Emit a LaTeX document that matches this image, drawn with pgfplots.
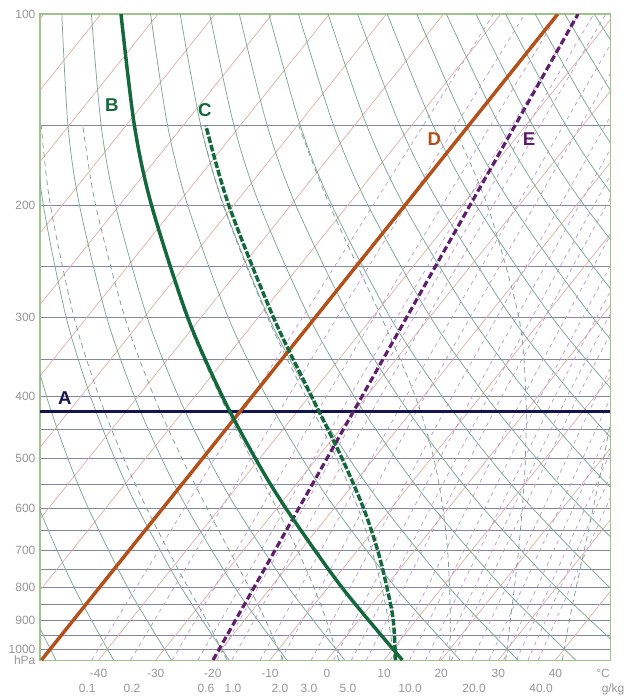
\documentclass[border=0pt]{standalone}
\usepackage{fontspec}
\setmainfont{Liberation Sans}
\usepackage{pgfplots}
\usepackage{pgfplotstable}
\pgfplotsset{compat=1.18}

\definecolor{framegreen}{RGB}{160,195,140}
\definecolor{isobar}{RGB}{135,135,155}
\definecolor{isotherm}{RGB}{215,175,165}
\definecolor{dryad}{RGB}{125,165,145}
\definecolor{moistad}{RGB}{125,155,145}
\definecolor{mixing}{RGB}{185,150,200}
\definecolor{ticklab}{RGB}{150,150,150}
\definecolor{lineA}{RGB}{20,20,80}
\definecolor{lineB}{RGB}{20,105,60}
\definecolor{lineD}{RGB}{180,80,25}
\definecolor{lineE}{RGB}{95,30,110}

% x = temperature at the bottom edge (skewed), y = pressure in hPa
% isotherms, -140 .. 40 C
\pgfplotstableread{
p t1 t2 t3 t4 t5 t6 t7 t8 t9 t10 t11 t12 t13 t14 t15 t16 t17 t18 t19
1040 -140 -130 -120 -110 -100 -90 -80 -70 -60 -50 -40 -30 -20 -10 0 10 20 30 40
100 -49.59 -39.59 -29.59 -19.59 -9.59 0.41 10.41 20.41 30.41 40.41 50.41 60.41 70.41 80.41 90.41 100.41 110.41 120.41 130.41
}\isotherms

% dry adiabats, theta = -50 .. 170 C
\pgfplotstableread{
p d1 d2 d3 d4 d5 d6 d7 d8 d9 d10 d11 d12 d13 d14 d15 d16 d17 d18 d19 d20 d21 d22 d23
1040 -47.48 -37.37 -27.26 -17.15 -7.03 3.08 13.19 23.31 33.42 43.53 53.64 63.76 73.87 83.98 94.09 104.21 114.32 124.43 134.55 144.66 154.77 164.88 175.00
800 -53.65 -44.27 -34.89 -25.50 -16.12 -6.74 2.64 12.02 21.41 30.79 40.17 49.55 58.94 68.32 77.70 87.08 96.47 105.85 115.23 124.61 134.00 143.38 152.76
600 -59.06 -50.42 -41.78 -33.13 -24.49 -15.85 -7.21 1.43 10.08 18.72 27.36 36.00 44.64 53.29 61.93 70.57 79.21 87.86 96.50 105.14 113.78 122.42 131.07
500 -61.81 -53.60 -45.40 -37.20 -29.00 -20.79 -12.59 -4.39 3.82 12.02 20.23 28.43 36.63 44.84 53.04 61.24 69.45 77.65 85.85 94.05 102.26 110.46 118.66
400 -64.50 -56.81 -49.11 -41.41 -33.72 -26.02 -18.32 -10.63 -2.93 4.77 12.46 20.16 27.86 35.55 43.25 50.95 58.64 66.34 74.04 81.74 89.43 97.13 104.83
300 -66.96 -59.87 -52.78 -45.69 -38.60 -31.51 -24.42 -17.33 -10.24 -3.15 3.94 11.03 18.11 25.20 32.29 39.38 46.47 53.56 60.65 67.74 74.83 81.92 89.01
200 -68.61 -62.30 -55.98 -49.67 -43.35 -37.04 -30.73 -24.41 -18.10 -11.78 -5.47 0.84 7.16 13.47 19.78 26.10 32.41 38.73 45.04 51.35 57.67 63.98 70.30
150 -68.62 -62.80 -56.99 -51.17 -45.36 -39.54 -33.72 -27.91 -22.09 -16.28 -10.46 -4.65 1.17 6.98 12.80 18.62 24.43 30.25 36.06 41.88 47.69 53.51 59.32
100 -67.16 -61.98 -56.80 -51.62 -46.44 -41.26 -36.08 -30.90 -25.72 -20.54 -15.36 -10.18 -5.00 0.18 5.36 10.54 15.72 20.90 26.08 31.26 36.44 41.62 46.79
}\dry

% saturated adiabats, theta_w = -20 .. 40 C
\pgfplotstableread{
p w1 w2 w3 w4 w5 w6 w7
1040 -17.5 -7.7 2.05 11.75 21.5 31.3 41.2
900 -21.12 -10.78 -0.13 10.75 21.58 32.11 42.45
800 -24.31 -13.61 -2.27 9.59 21.45 32.81 43.63
700 -27.79 -17.08 -5.12 7.86 21.12 33.53 45.02
600 -31.58 -20.99 -8.81 5.44 20.28 34.19 46.6
500 -35.64 -25.43 -13.32 1.68 18.68 34.74 48.45
400 -39.92 -30.29 -18.71 -3.71 15.46 34.82 50.54
300 -44.31 -35.42 -24.7 -10.44 9.5 33.58 53.6
200 -48.44 -40.52 -30.93 -18.19 0.45 28.07 nan
150 -50.04 -42.75 -33.91 -22.15 -4.93 22.11 nan
}\moist

% saturation mixing ratio lines, 0.1 .. 40 g/kg
\pgfplotstableread{
p m1 m2 m3 m4 m5 m6 m7 m8 m9 m10 m11 m12 m13 m14 m15 m16 m17 m18 m19 m20 m21 m22 m23
1040 -41.20 -34.39 -27.10 -22.60 -19.29 -16.66 -11.72 -8.08 -2.76 1.16 4.28 6.89 11.10 14.46 17.26 19.67 21.78 25.38 28.37 30.94 33.18 35.19 36.99
400 -13.01 -6.78 -0.14 3.96 6.96 9.35 13.83 17.12 21.91 25.44 28.25 30.59 34.37 37.37 39.88 42.03 43.91 47.12 49.78 52.06 54.06 55.83 57.44
100 29.14 34.65 40.50 44.10 46.73 48.82 52.73 55.59 59.76 62.82 65.25 67.27 70.52 73.11 75.26 77.11 78.72 81.46 83.74 85.68 87.38 88.89 90.25
}\mixing

\begin{document}
\begin{tikzpicture}
\begin{axis}[
  scale only axis,
  width=15.08cm, height=17.09cm,
  xmin=-50.26, xmax=49.56,
  ymode=log, ymin=100, ymax=1040, y dir=reverse,
  axis line style={framegreen, line width=0.8pt},
  ytick={100,200,...,1000},
  yticklabels={100,200,300,400,500,600,700,800,900,1000},
  minor ytick={150,250,...,950},
  ymajorgrids, yminorgrids,
  major grid style={isobar, line width=0.6pt},
  minor grid style={isobar, line width=0.6pt},
  xtick={-40,-30,...,40},
  xticklabels={-40,-30,-20,-10,0,10,20,30,40},
  major tick length=0pt, minor tick length=0pt,
  tick label style={font=\fontsize{9}{10}\selectfont, text=ticklab},
  xticklabel style={anchor=base, yshift=-0.45cm},
  extra x ticks={-42.0,-34.15,-21.19,-16.46,-8.23,-3.15,3.68,14.54,25.74,37.48},
  extra x tick labels={0.1,0.2,0.6,1.0,2.0,3.0,5.0,10.0,20.0,40.0},
  extra x tick style={xticklabel style={yshift=-0.397cm}},
  clip mode=individual,
]
% background lines
\pgfplotsinvokeforeach{1,...,19}{
  \addplot[isotherm, line width=0.5pt] table[x=t#1, y=p]{\isotherms};
}
\pgfplotsinvokeforeach{1,...,23}{
  \addplot[mixing, line width=0.5pt, dash pattern=on 3pt off 3pt] table[x=m#1, y=p]{\mixing};
}
\pgfplotsinvokeforeach{1,...,23}{
  \addplot[dryad, line width=0.55pt, smooth] table[x=d#1, y=p]{\dry};
}
\pgfplotsinvokeforeach{1,...,7}{
  \addplot[moistad, line width=0.55pt, smooth, dash pattern=on 4pt off 3pt] table[x=w#1, y=p]{\moist};
}

% A: isobar
\addplot[lineA, line width=2.5pt] coordinates {(-50.26,422) (49.56,422)};
% D: isotherm
\addplot[lineD, line width=2.6pt] coordinates {(-50,1040) (40.41,100)};
% E: mixing ratio line
\addplot[lineE, line width=2.4pt, dash pattern=on 5pt off 2.5pt] coordinates {(-19.96,1040) (43.96,100)};
% B: dry adiabat
\addplot[lineB, line width=2.6pt, smooth] table[x=d7, y=p]{\dry};
% C: saturated adiabat
\addplot[lineB, line width=2.6pt, smooth, dash pattern=on 5pt off 1.5pt] coordinates {
  (12.0,1040) (11.6,900) (10.5,800) (8.9,700) (6.4,600) (2.6,500)
  (-2.7,400) (-9.4,300) (-17.2,200) (-21.2,150)
};

\node[text=lineA, font=\fontsize{14}{16}\selectfont\bfseries] at (axis cs:-45.9,402) {A};
\node[text=lineB, font=\fontsize{14}{16}\selectfont\bfseries] at (axis cs:-37.7,139) {B};
\node[text=lineB, font=\fontsize{14}{16}\selectfont\bfseries] at (axis cs:-21.4,141.6) {C};
\node[text=lineD, font=\fontsize{14}{16}\selectfont\bfseries] at (axis cs:18.8,157.6) {D};
\node[text=lineE, font=\fontsize{14}{16}\selectfont\bfseries] at (axis cs:35.4,157.6) {E};

\node[anchor=east, font=\fontsize{9}{10}\selectfont, text=ticklab] at (axis cs:-50.26,1040) {hPa};
\node[anchor=base, yshift=-0.45cm, font=\fontsize{9}{10}\selectfont, text=ticklab] at (axis cs:48.34,1040) {°C};
\node[anchor=base, yshift=-0.847cm, font=\fontsize{9}{10}\selectfont, text=ticklab] at (axis cs:50.09,1040) {g/kg};
\end{axis}
\pgfresetboundingbox
\path ([shift={(-1.058cm,-1.005cm)}]current axis.south west) rectangle ([shift={(0.529cm,0.370cm)}]current axis.north east);
\end{tikzpicture}
\end{document}
